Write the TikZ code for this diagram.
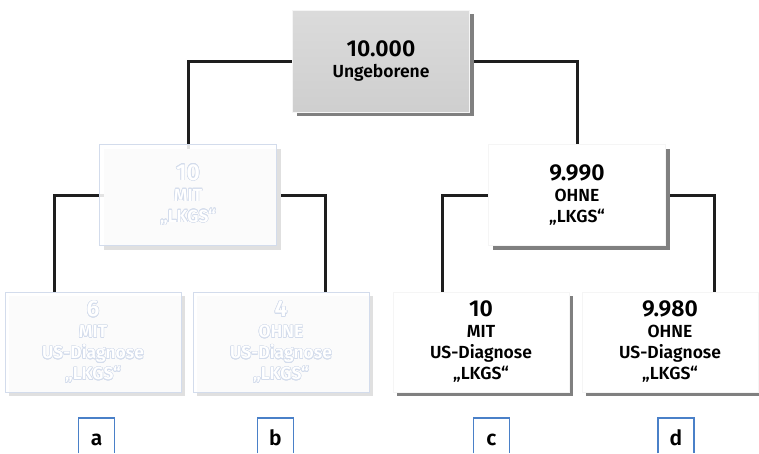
\documentclass[tikz,border=0pt]{standalone}
\usepackage{fontspec}
\setmainfont{Fira Sans}[BoldFont={* SemiBold}]
\usepackage[copies]{contour}
\usetikzlibrary{shadows,calc}

\definecolor{labelblue}{HTML}{4A80C8}
\definecolor{fadeblue}{HTML}{D3DCEC}
\definecolor{linegray}{HTML}{1E1E1E}
\contourlength{0.5pt}
\newcommand{\faint}[1]{\contour{fadeblue}{#1}}
\newcommand{\zahl}[1]{{\fontsize{23}{25}\selectfont #1}}

\tikzset{
  kasten/.style={rectangle, minimum width=177pt, minimum height=101pt, inner sep=0pt,
    align=center, font=\bfseries\fontsize{17.5}{21}\selectfont, fill=white, draw=gray!8},
  voll/.style={kasten, drop shadow={shadow xshift=4pt, shadow yshift=-4pt, fill=black!50, opacity=1}},
  blass/.style={kasten, text=white, draw=fadeblue, fill opacity=0.88, text opacity=1,
    drop shadow={shadow xshift=4pt, shadow yshift=-4pt, fill=black!12, opacity=1}},
  kante/.style={draw=linegray, line width=3pt},
  marke/.style={minimum width=36pt, minimum height=35pt, anchor=north, inner sep=0pt,
    text height=19pt, text depth=0pt, font=\bfseries\fontsize{21}{21}\selectfont},
  rahmen/.style={draw=labelblue, line width=1.5pt}
}

\begin{document}
\begin{tikzpicture}[x=1pt, y=-1pt]
    \path[use as bounding box, clip] (0,0) rectangle (759,453);

    % Verbindungen
    \draw[kante] (381,61) -| (188,195);
    \draw[kante] (381,61) -| (577,195);
    \draw[kante] (188,195) -| ($(5,292)!0.28!(181,292)$);
    \draw[kante] (188,195) -| ($(193,292)!0.75!(369,292)$);
    \draw[kante] (577,195) -| ($(393,292)!0.28!(569,292)$);
    \draw[kante] (577,195) -| ($(582,292)!0.75!(758,292)$);

    % Kaesten
    \node[voll, top color=gray!28, bottom color=gray!38, minimum height=102pt] (ungeboren) at (381,61)
        {\zahl{10.000}\\ Ungeborene};
    \node[blass] (mit) at (188,195) {\faint{\zahl{10}}\\ \faint{MIT}\\ \faint{„LKGS“}};
    \node[voll] (ohne) at (577,195) {\zahl{9.990}\\ OHNE\\ „LKGS“};

    \node[blass, minimum width=176pt, minimum height=100pt] (mitmit) at (93,342)
        {\faint{\zahl{6}}\\ \faint{MIT}\\ \faint{US-Diagnose}\\ \faint{„LKGS“}};
    \node[blass, minimum width=176pt, minimum height=100pt] (mitohne) at (281,342)
        {\faint{\zahl{4}}\\ \faint{OHNE}\\ \faint{US-Diagnose}\\ \faint{„LKGS“}};
    \node[voll, minimum width=176pt, minimum height=100pt] (ohnemit) at (481,342)
        {\zahl{10}\\ MIT\\ US-Diagnose\\ „LKGS“};
    \node[voll, minimum width=176pt, minimum height=100pt] (ohneohne) at (670,342)
        {\zahl{9.980}\\ OHNE\\ US-Diagnose\\ „LKGS“};

    % Buchstaben
    \node[marke] (a) at (96.5,418) {a};
    \node[marke] (b) at (275.5,418) {b};
    \node[marke] (c) at (491.5,418) {c};
    \node[marke] (d) at (676,418) {d};
    \foreach \m in {a,b,c,d}
        \draw[rahmen] (\m.south west) |- (\m.north east) -- (\m.south east);
\end{tikzpicture}
\end{document}
